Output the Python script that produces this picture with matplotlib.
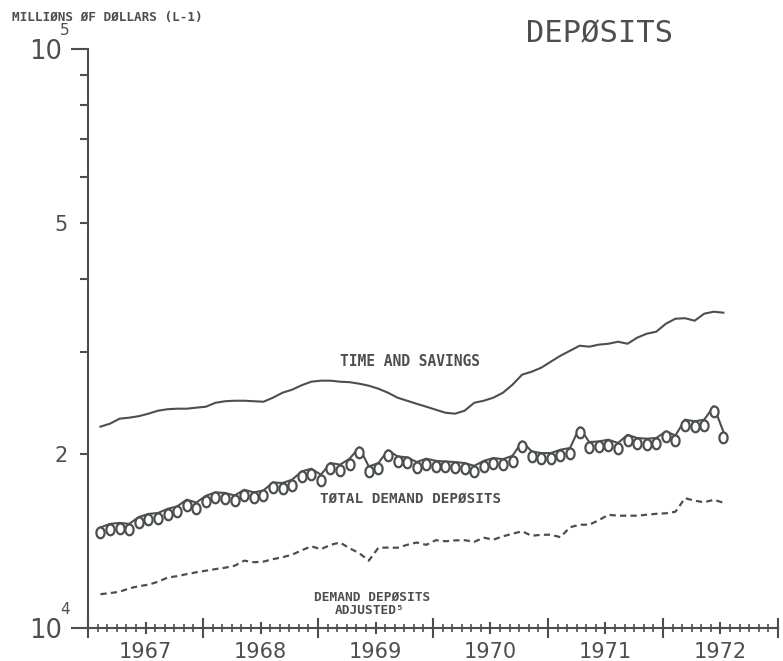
import numpy as np
import matplotlib
matplotlib.use("Agg")
import matplotlib.pyplot as plt
from matplotlib.path import Path
from matplotlib.ticker import FixedLocator, NullFormatter, FuncFormatter

INK = "#4b504e"
MONO = "DejaVu Sans Mono"

YEARS = [1967, 1968, 1969, 1970, 1971, 1972]

# monthly figures, Jan 1967 - Jun 1972, millions of dollars
time_savings = [22270, 22540, 22990, 23080, 23220, 23450, 23730, 23870, 23920, 23920, 24020, 24110,
                24490, 24640, 24690, 24690, 24640, 24590, 24990, 25490, 25800, 26260, 26630, 26740,
                26740, 26630, 26580, 26420, 26210, 25900, 25490, 24990, 24690, 24390, 24110, 23820,
                23540, 23450, 23730, 24490, 24690, 24990, 25490, 26320, 27390, 27710, 28160, 28840,
                29530, 30120, 30730, 30610, 30860, 30970, 31220, 30970, 31720, 32230, 32490, 33540,
                34210, 34280, 33940, 34900, 35180, 35040]

total_demand = [14920, 15130, 15190, 15130, 15550, 15740, 15800, 16060, 16220, 16660, 16470, 16920,
                17150, 17110, 16940, 17330, 17150, 17280, 17840, 17800, 18040, 18640, 18840, 18400,
                19270, 19150, 19610, 20510, 19010, 19270, 20280, 19790, 19710, 19350, 19610, 19440,
                19390, 19350, 19270, 19060, 19440, 19660, 19570, 19840, 21000, 20180, 20050, 20050,
                20320, 20460, 22210, 20950, 21000, 21150, 20870, 21560, 21290, 21230, 21290, 21850,
                21510, 22900, 22750, 22900, 24150, 21830]

demand_adjusted = [11440, 11490, 11550, 11710, 11810, 11880, 12020, 12220, 12290, 12390, 12480, 12560,
                   12640, 12710, 12810, 13070, 12990, 13020, 13150, 13250, 13390, 13620, 13840, 13680,
                   13920, 14050, 13730, 13470, 13070, 13760, 13770, 13760, 13920, 14050, 13920, 14180,
                   14120, 14170, 14180, 14090, 14320, 14210, 14400, 14550, 14690, 14430, 14490, 14490,
                   14350, 14930, 15080, 15080, 15350, 15690, 15630, 15630, 15630, 15690, 15750, 15780,
                   15880, 16760, 16590, 16490, 16650, 16460]

# points sit just past each month's tick
months = np.arange(len(total_demand)) + 1.3

# tall "O" that hangs below its data point, like the old plotter symbol
theta = np.linspace(0, 2 * np.pi, 41)
oval = Path(np.column_stack([0.38 * np.sin(theta), -0.5 - 0.5 * np.cos(theta)]), closed=True)

fig = plt.figure(figsize=(7.83, 6.61), dpi=100)
ax = fig.add_axes([0.1124, 0.0499, 0.8812, 0.876])
ax.set_yscale("log")
ax.set_ylim(1e4, 1e5)
ax.set_xlim(0, 12 * len(YEARS))

ax.plot(months, time_savings, color=INK, lw=1.5)
ax.plot(months, demand_adjusted, color=INK, lw=1.6, ls=(0, (2.8, 1.9)))
ax.plot(months, total_demand, color=INK, lw=1.5, marker=oval, ms=15.5,
        mfc="white", mec=INK, mew=1.6)

for side in ("top", "right"):
    ax.spines[side].set_visible(False)
for side in ("left", "bottom"):
    ax.spines[side].set_color(INK)
    ax.spines[side].set_linewidth(1.5)

# log axis: decades labelled 10 with a raised exponent, only 2 and 5 in between
decades = [1e4, 1e5]
ax.yaxis.set_major_locator(FixedLocator(decades))
ax.yaxis.set_minor_locator(FixedLocator([k * 1e4 for k in range(2, 10)]))
ax.yaxis.set_major_formatter(FuncFormatter(lambda v, _: "10"))
ax.yaxis.set_minor_formatter(FuncFormatter(
    lambda v, _: "%d" % round(v / 1e4) if round(v / 1e4) in (2, 5) else ""))
ax.tick_params(axis="y", which="major", direction="out", length=12.5, width=1.5,
               color=INK, labelcolor=INK, labelsize=18.5, pad=6.2)
ax.tick_params(axis="y", which="minor", direction="out", length=6, width=1.5,
               color=INK, labelcolor=INK, labelsize=15, pad=8.4)
for d in decades:
    ax.annotate("%d" % round(np.log10(d)), xy=(0, d), xycoords=("axes fraction", "data"),
                xytext=(-20, 13.5), textcoords="offset points", ha="left", va="center",
                color=INK, fontsize=11)

# years on major ticks, months on minor, half-years on a second set
ax.xaxis.set_major_locator(FixedLocator(np.arange(0, 12 * len(YEARS) + 1, 12)))
ax.xaxis.set_minor_locator(FixedLocator(np.arange(0, 12 * len(YEARS) + 1)))
ax.xaxis.set_major_formatter(NullFormatter())
ax.tick_params(axis="x", which="major", direction="inout", length=14, width=1.5, color=INK)
ax.tick_params(axis="x", which="minor", direction="inout", length=5.5, width=1.2, color=INK)

mid = ax.secondary_xaxis("bottom")
mid.set_xticks(np.arange(6, 12 * len(YEARS), 12), labels=[str(y) for y in YEARS])
mid.tick_params(direction="inout", length=8.5, width=1.5, color=INK,
                labelcolor=INK, labelsize=15, pad=5.8)
mid.spines["bottom"].set_visible(False)

# series names
lbl = dict(transform=ax.transAxes, ha="center", va="center", color=INK,
           family=MONO, weight="bold")
ax.text(0.4667, 0.4611, "TIME AND SAVINGS", fontsize=10.5, **lbl)
ax.text(0.4681, 0.2228, "TØTAL DEMAND DEPØSITS", fontsize=10.3, **lbl)
ax.text(0.4116, 0.0535, "DEMAND DEPØSITS", fontsize=9.3, **lbl)
ax.text(0.4080, 0.0311, "ADJUSTED⁵", fontsize=9.3, **lbl)

fig.text(0.0153, 0.9735, "MILLIØNS ØF DØLLARS (L-1)", ha="left", va="center",
         color=INK, family=MONO, weight="bold", fontsize=9.2)
fig.text(0.766, 0.9486, "DEPØSITS", ha="center", va="center", color=INK,
         family=MONO, fontsize=22)

fig.savefig("out.png", dpi=100, facecolor="white")
